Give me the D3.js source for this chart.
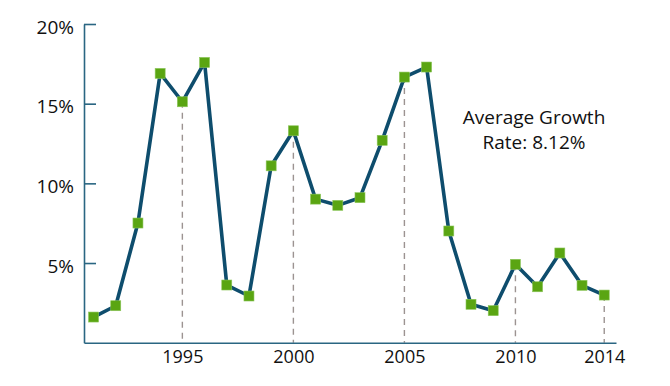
<!DOCTYPE html>
<html>
<head>
<meta charset="utf-8">
<script src="https://cdn.jsdelivr.net/npm/d3@7"></script>
<style>
  body { margin: 0; background: #fff; }
  svg { display: block; font-family: "Open Sans", sans-serif; }
  .axis path, .axis line { stroke: #2a6682; stroke-width: 1.6; }
  .axis text { fill: #111; font-family: "Open Sans", sans-serif; }
</style>
</head>
<body>
<div id="chart"></div>
<script>
// growth rate by year
const years = d3.range(1991, 2015);
const growth = [1.61, 2.32, 7.51, 16.9, 15.12, 17.59, 3.62, 2.93, 11.1, 13.3,
                9.01, 8.62, 9.1, 12.7, 16.67, 17.3, 7.01, 2.41, 2.01, 4.92,
                3.51, 5.63, 3.6, 2.99];
const yTicks = [5, 10, 15, 20];
const xTicks = [1995, 2000, 2005, 2010, 2014];
const noteLines = ["Average Growth", "Rate: 8.12%"];

const data = years.map((yr, i) => ({year: yr, value: growth[i]}));

const width = 670, height = 386;
const plot = {left: 84, right: 616, top: 24, bottom: 342.7};

const svg = d3.select("#chart")
  .append("svg")
  .attr("width", width)
  .attr("height", height);

const x = d3.scaleLinear()
  .domain([1990.57, 2014.53])
  .range([plot.left, plot.right]);

const y = d3.scaleLinear()
  .domain([0, 20])
  .range([plot.bottom, plot.top]);

// dashed guides under the labelled years
svg.append("g")
  .selectAll("line")
  .data(data.filter(d => xTicks.includes(d.year)))
  .join("line")
  .attr("x1", d => x(d.year))
  .attr("x2", d => x(d.year))
  .attr("y1", d => y(d.value))
  .attr("y2", plot.bottom)
  .attr("stroke", "#9c9391")
  .attr("stroke-width", 1.4)
  .attr("stroke-dasharray", "6,5");

// y axis, ticks pointing into the plot
svg.append("g")
  .attr("class", "axis")
  .attr("transform", "translate(" + plot.left + ",0)")
  .call(d3.axisLeft(y)
    .tickValues(yTicks)
    .tickSize(-12)
    .tickSizeOuter(0)
    .tickPadding(10)
    .tickFormat(d => d + "%"))
  .call(g => g.selectAll("text")
    .attr("font-size", 19)
    .attr("dy", "0.48em"));

// x axis, labels only
svg.append("g")
  .attr("class", "axis")
  .attr("transform", "translate(0," + plot.bottom + ")")
  .call(d3.axisBottom(x)
    .tickValues(xTicks)
    .tickSize(0)
    .tickSizeOuter(0)
    .tickPadding(8)
    .tickFormat(d3.format("d")))
  .call(g => g.selectAll("text").attr("font-size", 18));

const line = d3.line()
  .x(d => x(d.year))
  .y(d => y(d.value));

svg.append("path")
  .datum(data)
  .attr("fill", "none")
  .attr("stroke", "#0e4d6d")
  .attr("stroke-width", 3.6)
  .attr("stroke-linejoin", "round")
  .attr("d", line);

const s = 10;
svg.append("g")
  .selectAll("rect")
  .data(data)
  .join("rect")
  .attr("x", d => x(d.year) - s / 2)
  .attr("y", d => y(d.value) - s / 2)
  .attr("width", s)
  .attr("height", s)
  .attr("fill", "#5aa512")
  .attr("stroke", "#8cc65a")
  .attr("stroke-width", 0.6);

svg.append("text")
  .attr("text-anchor", "middle")
  .attr("font-size", 19)
  .attr("fill", "#111")
  .selectAll("tspan")
  .data(noteLines)
  .join("tspan")
  .attr("x", 534)
  .attr("y", (d, i) => 124 + i * 25)
  .text(d => d);
</script>
</body>
</html>
